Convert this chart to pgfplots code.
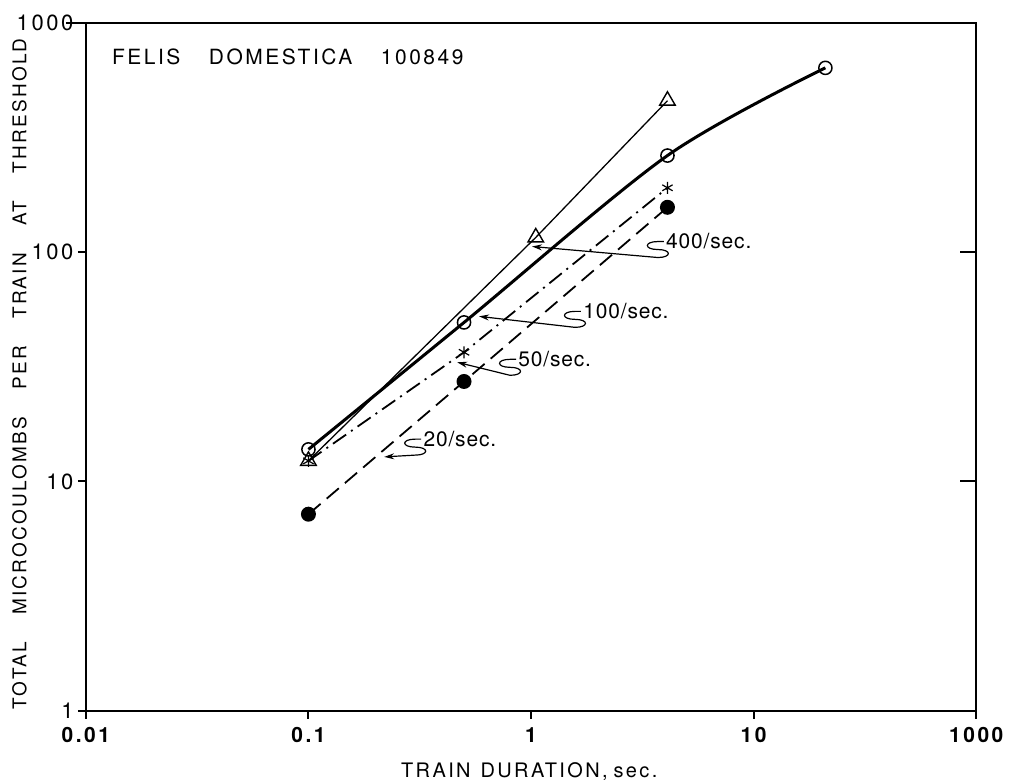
\documentclass[border=0pt]{standalone}
\usepackage{fontspec}
\setmainfont{TeX Gyre Heros}[LetterSpace=12]
\newfontfamily\annfont{TeX Gyre Heros}[LetterSpace=4]
\usepackage{pgfplots}
\pgfplotsset{compat=1.18}
\usetikzlibrary{arrows.meta}

% leader with an S-shaped curl, from the label (#1) to the curve (#2)
\newcommand{\squig}[3]{%
  \node[anchor=west, inner sep=0pt, xshift=1pt, font=\annfont\fontsize{10.5}{12}\selectfont] at (#1) {#3};
  \draw[line width=0.6pt, -{Stealth[length=5pt,width=3pt]}] (#1) -- ++(-3pt,0pt)
    .. controls +(-7pt,0pt) and +(-7pt,0pt) .. ++(0pt,-4pt)
    .. controls +(7pt,0pt) and +(7pt,0pt) .. ++(0pt,-4pt) -- (#2);}

\begin{document}
\begin{tikzpicture}
\begin{axis}[
    scale only axis, width=446pt, height=344.5pt,
    xmode=log, ymode=log,
    xmin=0.01, xmax=100, ymin=1, ymax=1000,
    axis line style={line width=1.2pt},
    xtick={0.01,0.1,1,10,100}, xticklabels={0.01,0.1,1,10,1000},
    ytick={1,10,100,1000}, yticklabels={1,10,100,1000},
    xminorticks=false, yminorticks=false,
    tick align=outside, xtick pos=bottom, ytick pos=left,
    major tick length=4pt,
    tick style={line width=1pt, black},
    xticklabel style={font=\bfseries\fontsize{10.5}{12}\selectfont, yshift=-1pt},
    yticklabel style={font=\fontsize{11}{12}\selectfont, inner sep=2pt},
    /pgf/number format/assume math mode=true,
    xlabel={TRAIN\hspace{0.5em}DURATION,\hspace{0.3em}sec.},
    xlabel style={at={(axis description cs:0.498,-0.0885)}, anchor=center, inner sep=0pt},
    ylabel={\makebox[336pt]{TOTAL\hfill MICROCOULOMBS\hfill PER\hfill TRAIN\hfill AT\hfill THRESHOLD}},
    ylabel style={at={(axis description cs:-0.0745,0.49)}, anchor=center, inner sep=0pt,
        font=\fontsize{9.5}{11}\selectfont},
    clip=false,
]
% 400/sec
\addplot[black, line width=0.65pt, mark=triangle, mark size=4.5pt,
    mark options={solid, fill=white, line width=0.7pt}]
    coordinates {(0.1,12.3) (1.05,116) (4.1,458)};
% 100/sec
\addplot[black, line width=1.5pt, smooth, tension=0.5, mark=o, mark size=3.3pt,
    mark options={solid, fill=white, line width=0.75pt}]
    coordinates {(0.1,13.8) (0.5,49.4) (4.1,264) (21,637)};
% 50/sec
\addplot[black, line width=0.9pt, dash pattern=on 8pt off 3pt on 1pt off 3pt,
    mark=asterisk, mark size=3pt, mark options={solid, line width=0.6pt}]
    coordinates {(0.1,12.3) (0.5,36.6) (4.1,191)};
% 20/sec
\addplot[black, line width=0.9pt, dash pattern=on 8pt off 4pt,
    mark=*, mark size=3.3pt, mark options={solid}]
    coordinates {(0.1,7.2) (0.5,27.3) (4.1,157)};

\node[anchor=west, inner sep=0pt, font=\fontsize{10.5}{12}\selectfont]
    at (rel axis cs:0.029,0.951) {\makebox[176pt]{FELIS\hfill DOMESTICA\hfill 100849}};

\squig{axis cs:3.95,111.3}{axis cs:1.01,105.9}{400/sec.}
\squig{axis cs:1.676,55.2}{axis cs:0.584,52.5}{100/sec.}
\squig{axis cs:0.856,34.1}{axis cs:0.466,33.1}{50/sec.}
\squig{axis cs:0.321,15.3}{axis cs:0.219,12.8}{20/sec.}

% inward ticks on the right, long tick at the top left
\draw[line width=1pt] (axis cs:100,10) -- ++(-8pt,0pt);
\draw[line width=1pt] (axis cs:100,100) -- ++(-8pt,0pt);
\draw[line width=1pt] (axis cs:0.01,1000) -- ++(-10pt,0pt);

% margins round the frame, as in the reference
\path (rel axis cs:0,0) ++(-43pt,-35pt) rectangle ++(505pt,391pt);
\end{axis}
\end{tikzpicture}
\end{document}
